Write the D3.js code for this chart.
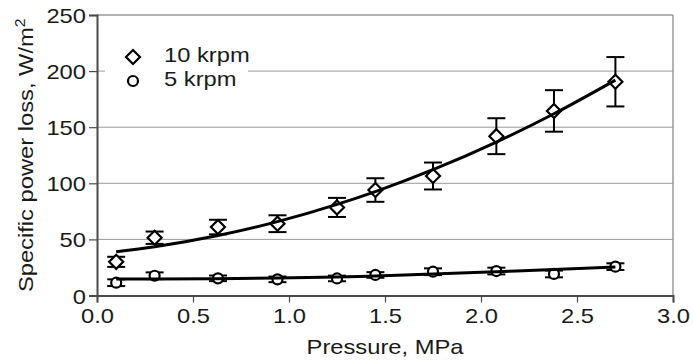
<!DOCTYPE html>
<html>
<head>
<meta charset="utf-8">
<script src="https://cdn.jsdelivr.net/npm/d3@7"></script>
<style>
  body { margin: 0; background: #fff; }
  svg { display: block; font-family: "Liberation Sans", Arial, sans-serif; }
</style>
</head>
<body>
<svg width="693" height="362"></svg>
<script>
// pressure, MPa (same for both series)
const pressure = [0.1, 0.3, 0.63, 0.94, 1.25, 1.45, 1.75, 2.08, 2.38, 2.70];

// 10 krpm measurements and error half-widths
const loss10 = [30, 51.5, 61, 64, 78.5, 94, 106.5, 142, 164.5, 190.5];
const err10 = [4.5, 5.5, 6.5, 7.5, 8.5, 10.5, 12, 16, 18.5, 22];
// trend line read at each pressure
const trend10 = [39, 43.4, 53.4, 65.8, 81.2, 92.6, 112.1, 136.7, 162, 192];

// 5 krpm measurements and error half-widths
const loss5 = [11.4, 17.6, 15.3, 14.4, 15.2, 18.3, 21.2, 21.8, 19.2, 25.7];
const err5 = [3, 3, 2.5, 2.5, 2.5, 2.5, 3, 3, 3, 3];
const trend5 = [14.7, 14.7, 15.0, 15.5, 16.4, 17.4, 19.1, 21.2, 23.1, 25.4];

const xTicks = [0, 0.5, 1.0, 1.5, 2.0, 2.5, 3.0];
const yTicks = [0, 50, 100, 150, 200, 250];

const FONT = 21, WIDEN = 1.13; // glyphs in the original are wider than Liberation Sans

const svg = d3.select('svg'),
    margin = {top: 15, right: 20, bottom: 66.5, left: 97},
    width = 693 - margin.left - margin.right,
    height = 362 - margin.top - margin.bottom;

const g = svg.append('g').attr('transform', `translate(${margin.left},${margin.top})`);

const x = d3.scaleLinear().domain([0, 3]).range([0, width]);
const y = d3.scaleLinear().domain([0, 250]).range([height, 0]);

// puts a widened text at (tx, ty)
function wideText(parent, tx, ty, anchor) {
    return parent.append('text')
        .attr('transform', `translate(${tx},${ty}) scale(${WIDEN},1)`)
        .attr('text-anchor', anchor)
        .attr('font-size', FONT)
        .attr('fill', '#1a1a1a');
}

// gridlines
g.selectAll('.grid')
    .data(yTicks.filter(d => d > 0))
    .enter().append('line')
    .attr('x1', 0).attr('x2', width)
    .attr('y1', d => y(d)).attr('y2', d => y(d))
    .attr('stroke', '#9a9a9a')
    .attr('stroke-width', d => d === 250 ? 1.5 : 1);

// right border
g.append('line')
    .attr('x1', width).attr('x2', width)
    .attr('y1', 0).attr('y2', height)
    .attr('stroke', '#9a9a9a').attr('stroke-width', 1.5);

// axes
const xAxis = g.append('g')
    .attr('transform', `translate(0,${height})`)
    .call(d3.axisBottom(x).tickValues(xTicks).tickFormat(d3.format('.1f')).tickSize(7));
const yAxis = g.append('g')
    .call(d3.axisLeft(y).tickValues(yTicks).tickSize(8));

[xAxis, yAxis].forEach(a => {
    a.select('.domain').attr('stroke', '#4a4a4a').attr('stroke-width', 2);
    a.selectAll('.tick line').attr('stroke', '#4a4a4a').attr('stroke-width', 1.2);
    a.selectAll('.tick text')
        .attr('font-family', '"Liberation Sans", Arial, sans-serif')
        .attr('font-size', FONT)
        .attr('fill', '#1a1a1a');
});
xAxis.selectAll('.tick text')
    .attr('x', 0).attr('y', 0).attr('dy', null)
    .attr('transform', `translate(0,27) scale(${WIDEN},1)`);
yAxis.selectAll('.tick text')
    .attr('x', 0).attr('dy', '0.36em')
    .attr('transform', `translate(-11,0) scale(${WIDEN},1)`);

// legend background
g.append('rect')
    .attr('x', 8).attr('y', 28)
    .attr('width', 143).attr('height', 60)
    .attr('fill', '#fff');

const series = [
    {name: '10 krpm', vals: loss10, err: err10, trend: trend10, shape: 'diamond'},
    {name: '5 krpm', vals: loss5, err: err5, trend: trend5, shape: 'circle'}
];

const diamondPath = 'M0,-7L7,0L0,7L-7,0Z';

function drawMarker(sel, shape) {
    if (shape === 'diamond') {
        sel.append('path').attr('d', diamondPath);
    } else {
        sel.append('circle').attr('r', 5);
    }
    sel.selectAll('path, circle')
        .attr('fill', '#fff')
        .attr('stroke', '#000')
        .attr('stroke-width', 2.2);
}

series.forEach(s => {
    const pts = pressure.map((p, i) => ({p: p, v: s.vals[i], e: s.err[i], t: s.trend[i]}));

    // error bars
    const eb = g.append('g').attr('stroke', '#000').attr('stroke-width', 2);
    pts.forEach(d => {
        const cx = x(d.p);
        eb.append('line').attr('x1', cx).attr('x2', cx).attr('y1', y(d.v + d.e)).attr('y2', y(d.v - d.e));
        eb.append('line').attr('x1', cx - 9).attr('x2', cx + 9).attr('y1', y(d.v + d.e)).attr('y2', y(d.v + d.e));
        eb.append('line').attr('x1', cx - 9).attr('x2', cx + 9).attr('y1', y(d.v - d.e)).attr('y2', y(d.v - d.e));
    });

    // markers
    g.append('g').selectAll('g')
        .data(pts)
        .enter().append('g')
        .attr('transform', d => `translate(${x(d.p)},${y(d.v)})`)
        .each(function () { drawMarker(d3.select(this), s.shape); });

    // trend line
    g.append('path')
        .datum(pts)
        .attr('fill', 'none')
        .attr('stroke', '#000')
        .attr('stroke-width', 3)
        .attr('d', d3.line().x(d => x(d.p)).y(d => y(d.t)).curve(d3.curveMonotoneX));
});

// legend
series.forEach((s, i) => {
    const ly = 42 + i * 24;
    const m = g.append('g').attr('transform', `translate(36,${ly})`);
    drawMarker(m, s.shape);
    wideText(g, 67, ly + 5, 'start').text(s.name);
});

// axis titles
wideText(svg, margin.left + width / 2, 354, 'middle').text('Pressure, MPa');

const yt = svg.append('text')
    .attr('transform', `translate(33,${margin.top + height / 2}) rotate(-90) scale(${WIDEN},1)`)
    .attr('text-anchor', 'middle')
    .attr('font-size', FONT)
    .attr('fill', '#1a1a1a');
yt.append('tspan').text('Specific power loss, W/m');
yt.append('tspan').attr('font-size', 14).attr('dy', -8).text('2');
</script>
</body>
</html>
